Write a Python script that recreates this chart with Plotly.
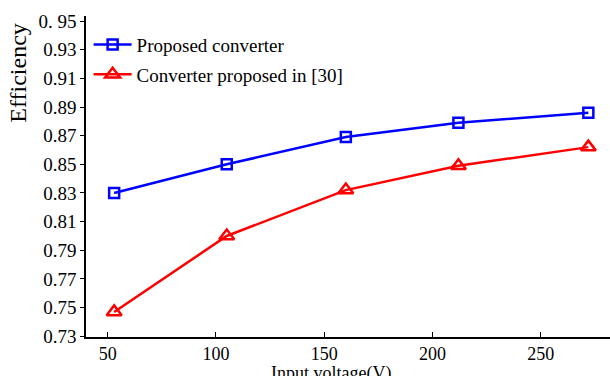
import plotly.graph_objects as go

# Input voltage (V) and measured efficiency of each converter
voltage = [53, 105, 160, 212, 272]
eff_proposed = [0.830, 0.850, 0.869, 0.879, 0.886]
eff_ref30 = [0.747, 0.800, 0.832, 0.849, 0.862]

y_tick_vals = [0.73, 0.75, 0.77, 0.79, 0.81, 0.83, 0.85, 0.87, 0.89, 0.91, 0.93, 0.95]
y_tick_text = ["0.73", "0.75", "0.77", "0.79", "0.81", "0.83", "0.85", "0.87", "0.89", "0.91", "0.93", "0. 95"]
x_tick_vals = [50, 100, 150, 200, 250]

FONT = "Times New Roman"

fig = go.Figure()
fig.add_trace(go.Scatter(
    x=voltage, y=eff_proposed, mode="lines+markers", name="Proposed converter",
    legendgroup="a",
    line=dict(color="#0000FF", width=2.5),
    marker=dict(symbol="square-open", size=10, color="#0000FF", line=dict(width=2.5)),
))
fig.add_trace(go.Scatter(
    x=voltage, y=eff_ref30, mode="lines+markers", name="Converter proposed in [30]",
    legendgroup="b",
    line=dict(color="#FF0000", width=2.5),
    marker=dict(symbol="triangle-up-open", size=13, color="#FF0000", line=dict(width=2.5)),
))

fig.update_layout(
    width=610, height=376,
    margin=dict(l=86, r=0, t=16, b=39),
    paper_bgcolor="white", plot_bgcolor="white",
    font=dict(family=FONT, color="black"),
    showlegend=True,
    legend=dict(
        x=0.005, y=0.97, xanchor="left", yanchor="top",
        font=dict(family=FONT, size=19, color="black"),
        bgcolor="rgba(0,0,0,0)", traceorder="grouped", tracegroupgap=2,
        itemwidth=38,
    ),
    xaxis=dict(
        range=[40, 282], tickvals=x_tick_vals, showgrid=False, zeroline=False,
        showline=True, linecolor="black", linewidth=1.5,
        ticks="inside", ticklen=5, tickcolor="black",
        tickfont=dict(family=FONT, size=18, color="black"),
    ),
    yaxis=dict(
        range=[0.7295, 0.9535], tickvals=y_tick_vals, ticktext=y_tick_text,
        showgrid=False, zeroline=False,
        showline=True, linecolor="black", linewidth=1.5,
        ticks="outside", ticklen=4, tickcolor="black",
        tickfont=dict(family=FONT, size=19, color="black"),
    ),
    annotations=[
        dict(text="Input voltage(V)", xref="paper", yref="paper", x=0.468, y=-0.074,
             xanchor="center", yanchor="top", showarrow=False,
             font=dict(family=FONT, size=18, color="black")),
        dict(text="Efficiency", xref="paper", yref="paper", x=-0.130, y=0.985,
             xanchor="center", yanchor="top", textangle=-90, showarrow=False,
             font=dict(family=FONT, size=24, color="black")),
    ],
)

fig.write_html("out.html")
